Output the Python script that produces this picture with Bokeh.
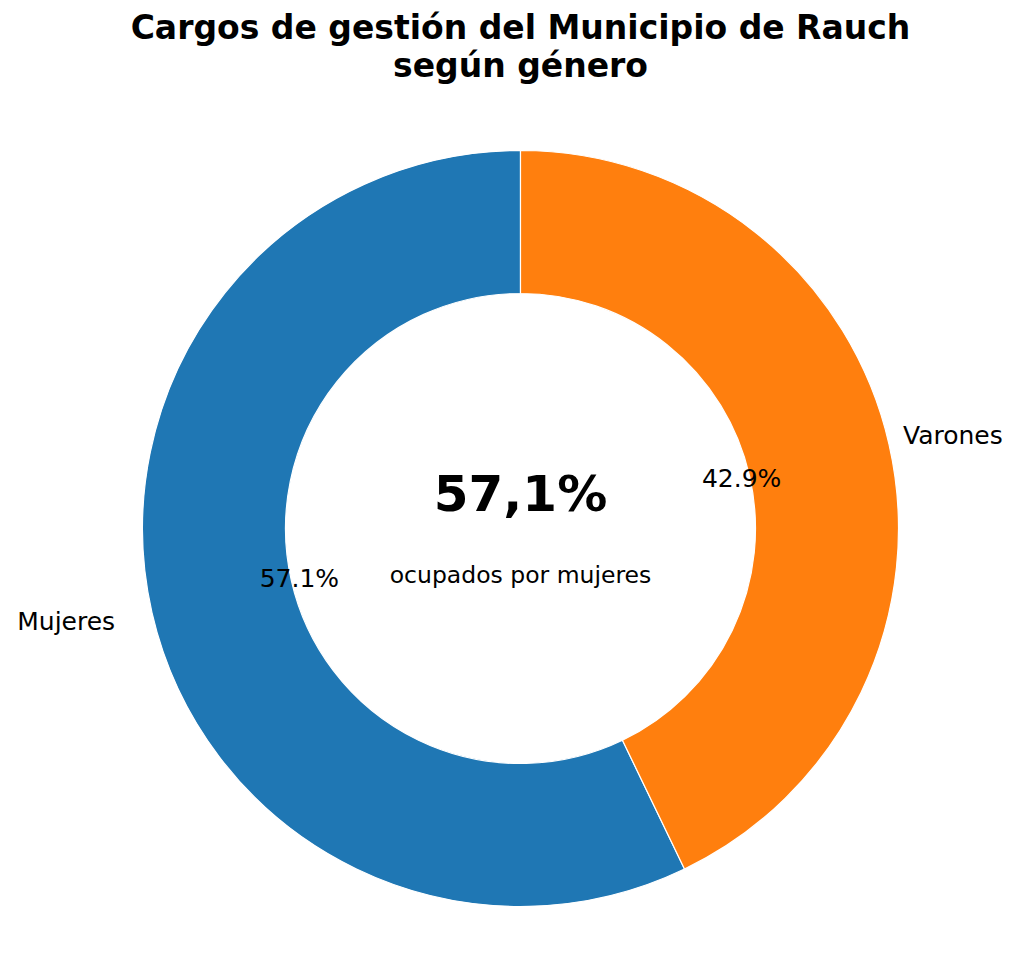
import numpy as np
from bokeh.plotting import figure
from bokeh.models import Range1d, ColumnDataSource
from bokeh.core.properties import value
from bokeh.embed import file_html
from bokeh.resources import INLINE

# ---- data ----
title_lines = ["Cargos de gestión del Municipio de Rauch", "según género"]
categories = ["Mujeres", "Varones"]
counts = [4, 3]
colors = ["#1f77b4", "#ff7f0e"]
center_big = "57,1%"
center_small = "ocupados por mujeres"

# ---- layout (picture pixel coordinates, y measured from top) ----
W, H = 1008, 937
def Y(y_img):
    return H - y_img

cx, cy = 520, Y(528)
R_out, R_in = 378, 235
FONT = "DejaVu Sans"
LABEL_PX = 25

vals = np.array(counts, dtype=float)
frac = vals / vals.sum()
start = np.pi / 2 + 2 * np.pi * np.concatenate([[0], np.cumsum(frac)[:-1]])
end = start + 2 * np.pi * frac
mid = (start + end) / 2
pct = [f"{f*100:.1f}%" for f in frac]

p = figure(width=W, height=H, output_backend="svg", toolbar_location=None,
           x_range=Range1d(0, W), y_range=Range1d(0, H),
           min_border=0, outline_line_color=None, background_fill_color="white",
           border_fill_color="white")
p.axis.visible = False
p.grid.visible = False

src = ColumnDataSource(dict(start=start, end=end, color=colors, cat=categories))
p.annular_wedge(x=cx, y=cy, inner_radius=R_in, outer_radius=R_out,
                start_angle="start", end_angle="end", direction="anticlock",
                fill_color="color", line_color="white", line_width=1.2, source=src)

# category labels at 1.1 R (kept inside the canvas)
lx = cx + 1.1 * R_out * np.cos(mid)
ly = cy + 1.1 * R_out * np.sin(mid)
approx_w = [0.58 * LABEL_PX * len(c) for c in categories]
lx = [min(x, W - 4 - w) if np.cos(m) > 0 else max(x, 4 + w)
      for x, m, w in zip(lx, mid, approx_w)]
align = ["left" if np.cos(m) > 0 else "right" for m in mid]
p.text(x=lx, y=ly, text=categories, text_align=align, text_baseline="middle",
       text_font=value(FONT), text_font_size=f"{LABEL_PX}px", text_color="black")

# percentage labels at 0.6 R
px_ = cx + 0.6 * R_out * np.cos(mid)
py_ = cy + 0.6 * R_out * np.sin(mid)
p.text(x=px_, y=py_, text=pct, text_align="center", text_baseline="middle",
       text_font=value(FONT), text_font_size=f"{LABEL_PX}px", text_color="black")

# center texts
p.text(x=[cx], y=[Y(493)], text=[center_big], text_align="center",
       text_baseline="middle", text_font=value(FONT), text_font_size="50px",
       text_font_style="bold", text_color="black")
p.text(x=[cx], y=[Y(574)], text=[center_small], text_align="center",
       text_baseline="middle", text_font=value(FONT), text_font_size="23.5px",
       text_color="black")

# title
p.text(x=[cx, cx], y=[Y(27), Y(65)], text=title_lines, text_align="center",
       text_baseline="middle", text_font=value(FONT), text_font_size="33px",
       text_font_style="bold", text_color="black")

open("out.html", "w").write(file_html(p, INLINE))
